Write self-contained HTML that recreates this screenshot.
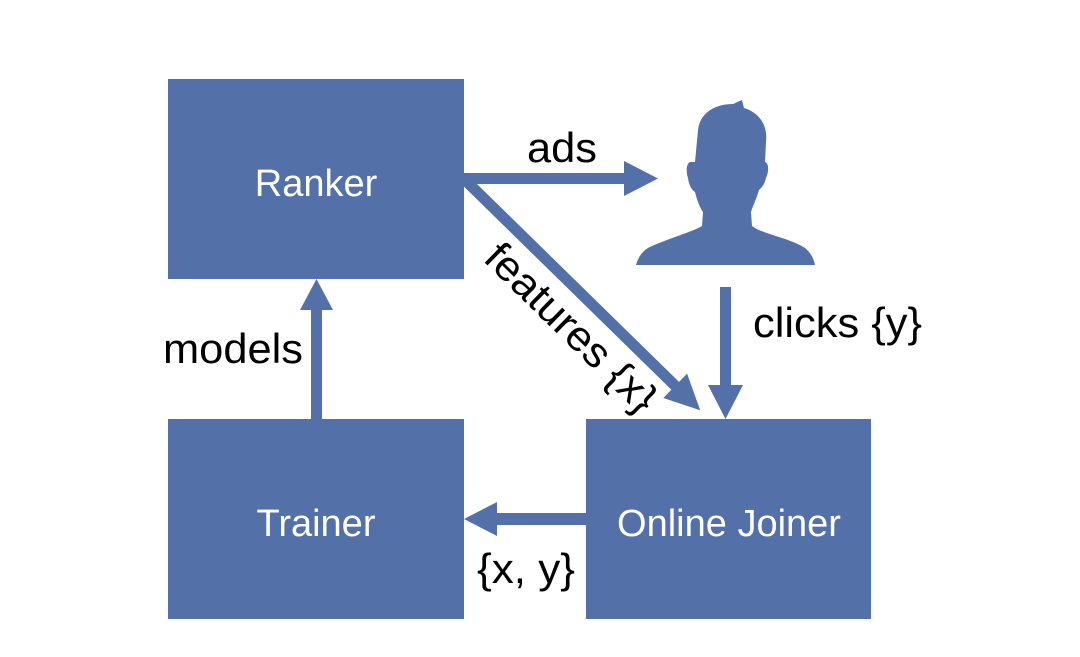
<!DOCTYPE html>
<html><head><style>
html,body{margin:0;padding:0;background:#fff;}
svg{display:block;}
</style></head><body>
<svg width="1080" height="657" viewBox="0 0 1080 657" xmlns="http://www.w3.org/2000/svg">
<g fill="#5470A8">
<rect x="168" y="79" width="296" height="200"/>
<rect x="168" y="419" width="296" height="200"/>
<rect x="586" y="419" width="285" height="200"/>
<rect x="463" y="173" width="165" height="11"/>
<polygon points="624,161 658,178.5 624,196"/>
<g transform="translate(463,178) rotate(44.4)">
<rect x="0" y="-5.5" width="300" height="11"/>
<polygon points="297,-17 332,0 297,17"/>
</g>
<rect x="720" y="287" width="11" height="100"/>
<polygon points="708,385 725.5,419 743,385"/>
<rect x="311" y="306" width="11" height="114"/>
<polygon points="300,310 316.5,279 333,310"/>
<rect x="494" y="513" width="92" height="12"/>
<polygon points="497,502 464,519 497,536"/>
<path d="M698,130 C700,112 716,104 733,104 L742,100 L744,108 C758,112 768,124 766,142 L765,162 C769,163 769,172 766,178 C764,186 761,188 759,190 C756,200 752,208 751,212 L752,226 C762,234 790,238 805,248 C812,254 814,260 815,265 L636,265 C638,258 642,250 652,246 C670,238 692,232 702,226 L703,212 C700,208 697,200 695,192 C692,190 689,186 688,178 C686,172 686,164 690,162 L695,162 Z"/>
</g>
<g font-family="Liberation Sans, sans-serif" fill="#fff" font-size="38" text-anchor="middle">
<text x="316" y="196">Ranker</text>
<text x="316" y="536">Trainer</text>
<text x="729" y="536">Online Joiner</text>
</g>
<g font-family="Liberation Sans, sans-serif" fill="#000" font-size="42">
<text x="527" y="162" textLength="70" lengthAdjust="spacingAndGlyphs">ads</text>
<text x="753" y="337" textLength="169" lengthAdjust="spacingAndGlyphs">clicks {y}</text>
<text x="163" y="363" textLength="140" lengthAdjust="spacingAndGlyphs">models</text>
<text x="477" y="583" textLength="98" lengthAdjust="spacingAndGlyphs">{x, y}</text>
<text x="0" y="0" transform="translate(482,260) rotate(44.4)" textLength="222" lengthAdjust="spacingAndGlyphs">features {x}</text>
</g>
</svg>
</body></html>
